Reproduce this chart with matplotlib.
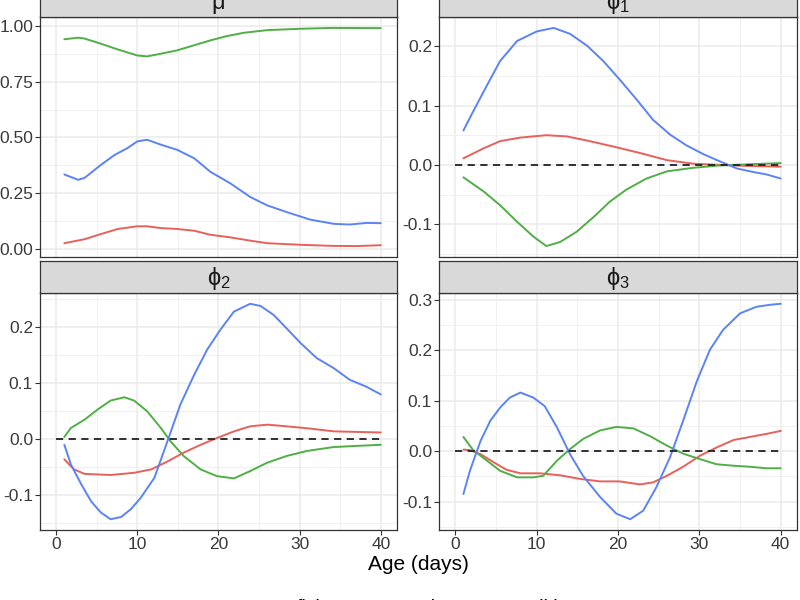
import matplotlib
matplotlib.use("Agg")
import matplotlib.pyplot as plt
from matplotlib.lines import Line2D

plt.rcParams['font.family'] = ['Liberation Sans', 'DejaVu Sans']

# ---------------- data ----------------
groups = ["flying", "resting", "walking"]
colors = {"flying": "#E8605A", "resting": "#4FAF45", "walking": "#5B83F8"}
panel_titles = ["μ", "$\\mathregular{ϕ_1}$", "$\\mathregular{ϕ_2}$", "$\\mathregular{ϕ_3}$"]
x_ticks = [0, 10, 20, 30, 40]
ref_x = [0, 40]

# mu
mu_walk_d = [1, 2.7, 3.5, 5.5, 7.2, 8.8, 10, 11.2, 12.9, 14.9, 17, 19, 21.5, 23.9, 26, 28.4, 31.3, 34.2, 36.2, 38.2, 40]
mu_walk = [0.333, 0.309, 0.318, 0.376, 0.421, 0.452, 0.482, 0.489, 0.467, 0.444, 0.406, 0.345, 0.292, 0.232, 0.194, 0.164, 0.130, 0.111, 0.108, 0.115, 0.114]
mu_rest_d = [1, 2.7, 3.5, 5.5, 7.6, 10, 11.2, 12.9, 14.9, 17, 19, 21, 23.1, 26, 30, 34, 40]
mu_rest = [0.941, 0.948, 0.944, 0.921, 0.895, 0.868, 0.864, 0.876, 0.891, 0.914, 0.936, 0.955, 0.970, 0.982, 0.988, 0.992, 0.991]
mu_fly_d = [1, 3.5, 5.5, 7.6, 10, 11.2, 12.9, 14.9, 17, 19, 21.5, 24, 26, 30, 34, 37, 40]
mu_fly = [0.024, 0.042, 0.065, 0.088, 0.100, 0.100, 0.092, 0.088, 0.080, 0.062, 0.050, 0.035, 0.024, 0.017, 0.012, 0.011, 0.015]

# phi1
p1_walk_d = [1, 2.2, 3.5, 5.5, 7.6, 10, 12.1, 14.1, 16.2, 18.2, 20.2, 22.3, 24.3, 26.4, 28.4, 30.5, 32.5, 34.6, 36.6, 38.2, 40]
p1_walk = [0.058, 0.090, 0.124, 0.175, 0.209, 0.225, 0.231, 0.221, 0.201, 0.175, 0.144, 0.110, 0.076, 0.051, 0.033, 0.018, 0.006, -0.006, -0.012, -0.016, -0.023]
p1_fly_d = [1, 3.5, 5.5, 8, 11.2, 13.7, 16.2, 19.4, 22.7, 26, 29.2, 32.5, 36.2, 40]
p1_fly = [0.011, 0.028, 0.040, 0.046, 0.050, 0.048, 0.041, 0.031, 0.020, 0.008, 0.002, 0.000, -0.002, -0.003]
p1_rest_d = [1, 3.5, 5.5, 7.6, 9.6, 11.2, 12.9, 14.9, 17, 19, 21, 23.5, 26, 29.2, 32.5, 36.2, 40]
p1_rest = [-0.021, -0.045, -0.068, -0.096, -0.121, -0.137, -0.130, -0.113, -0.088, -0.062, -0.042, -0.023, -0.011, -0.005, -0.001, 0.001, 0.003]

# phi2
p2_walk_d = [1, 1.8, 3.1, 4.3, 5.5, 6.7, 8, 9.2, 10.4, 12.1, 13.7, 15.3, 17, 18.6, 20.2, 21.9, 23.9, 25.2, 26.8, 28.4, 30.1, 32.1, 34.2, 36.2, 38.2, 40]
p2_walk = [-0.010, -0.045, -0.081, -0.111, -0.131, -0.143, -0.139, -0.125, -0.105, -0.069, -0.004, 0.062, 0.115, 0.160, 0.195, 0.228, 0.242, 0.238, 0.222, 0.198, 0.172, 0.145, 0.127, 0.106, 0.094, 0.080]
p2_rest_d = [1, 1.8, 3.5, 5.1, 6.7, 8.4, 9.6, 11.2, 12.9, 14.1, 15.7, 17.8, 19.8, 21.9, 23.9, 26, 28.4, 30.9, 34.2, 37, 40]
p2_rest = [0.004, 0.020, 0.035, 0.053, 0.069, 0.075, 0.069, 0.050, 0.020, -0.004, -0.030, -0.054, -0.066, -0.070, -0.057, -0.042, -0.030, -0.021, -0.014, -0.012, -0.010]
p2_fly_d = [1, 2.2, 3.5, 6.7, 9.6, 11.7, 13.7, 15.7, 17.8, 19.8, 21.9, 23.9, 26, 28.4, 31.3, 34.2, 40]
p2_fly = [-0.036, -0.054, -0.062, -0.064, -0.060, -0.054, -0.040, -0.024, -0.010, 0.002, 0.014, 0.023, 0.026, 0.023, 0.019, 0.014, 0.012]

# phi3
p3_walk_d = [1, 1.8, 3.1, 4.3, 5.5, 6.7, 8, 9.6, 11, 12.5, 14.1, 15.7, 17.8, 19.8, 21.5, 23.1, 24.7, 26.4, 28, 29.7, 31.3, 32.9, 35, 37, 38.7, 40]
p3_walk = [-0.085, -0.039, 0.020, 0.060, 0.086, 0.106, 0.116, 0.106, 0.089, 0.047, -0.006, -0.049, -0.091, -0.124, -0.135, -0.118, -0.072, -0.012, 0.060, 0.139, 0.201, 0.240, 0.273, 0.286, 0.290, 0.292]
p3_rest_d = [1, 2.2, 3.9, 5.5, 7.6, 9.6, 10.8, 12.5, 14.1, 15.7, 17.8, 19.8, 21.9, 23.9, 26, 28, 30.1, 32.1, 34.2, 36.2, 38.2, 40]
p3_rest = [0.028, 0.002, -0.019, -0.039, -0.052, -0.052, -0.049, -0.019, 0.004, 0.024, 0.041, 0.048, 0.045, 0.030, 0.011, -0.005, -0.016, -0.026, -0.029, -0.031, -0.034, -0.034]
p3_fly_d = [1, 1.8, 3.1, 4.7, 6.3, 8, 10.4, 12.9, 15.3, 17.8, 20.2, 22.7, 24.3, 26, 28, 30.1, 32.1, 34.2, 36.2, 38.2, 40]
p3_fly = [0.003, 0.002, -0.006, -0.022, -0.037, -0.044, -0.044, -0.048, -0.055, -0.060, -0.060, -0.066, -0.062, -0.049, -0.031, -0.009, 0.007, 0.022, 0.028, 0.034, 0.040]

panels = [
    {"flying": (mu_fly_d, mu_fly), "resting": (mu_rest_d, mu_rest), "walking": (mu_walk_d, mu_walk)},
    {"flying": (p1_fly_d, p1_fly), "resting": (p1_rest_d, p1_rest), "walking": (p1_walk_d, p1_walk)},
    {"flying": (p2_fly_d, p2_fly), "resting": (p2_rest_d, p2_rest), "walking": (p2_walk_d, p2_walk)},
    {"flying": (p3_fly_d, p3_fly), "resting": (p3_rest_d, p3_rest), "walking": (p3_walk_d, p3_walk)},
]
y_ticks = [[0, 0.25, 0.5, 0.75, 1.0], [-0.1, 0, 0.1, 0.2], [-0.1, 0, 0.1, 0.2], [-0.1, 0, 0.1, 0.2, 0.3]]
y_fmt = ["{:.2f}", "{:.1f}", "{:.1f}", "{:.1f}"]
show_ref = [False, True, True, True]

# ---------------- layout ----------------
W, H = 800, 600
fig = plt.figure(figsize=(8, 6), dpi=100)

# (left, right, top, bottom) in pixels for panel areas
boxes = [(40, 397, 17, 257), (439, 797, 17, 257), (40, 397, 293, 530), (439, 797, 293, 530)]
strip_h = 32
grey20 = "#333333"

for i, (l, r, t, b) in enumerate(boxes):
    ax = fig.add_axes([l / W, 1 - b / H, (r - l) / W, (b - t) / H])
    ax.set_facecolor("white")
    for g in groups:
        xd, yd = panels[i][g]
        ax.plot(xd, yd, color=colors[g], lw=1.4, zorder=3, solid_capstyle="round",
                solid_joinstyle="round")
    if show_ref[i]:
        ax.plot(ref_x, [0, 0], color="#222222", lw=1.3, ls=(0, (4, 3)), zorder=4)
    # limits with ggplot-style expansion
    allv = [v for g in groups for v in panels[i][g][1]]
    lo, hi = min(allv), max(allv)
    if show_ref[i]:
        lo, hi = min(lo, 0), max(hi, 0)
    pad = 0.05 * (hi - lo)
    ax.set_xlim(-2, 42)
    ax.set_xticks(x_ticks)
    ax.set_xticks([5, 15, 25, 35], minor=True)
    yt = y_ticks[i]
    ax.set_yticks(yt)
    step = yt[1] - yt[0]
    ax.set_yticks([v + step / 2 for v in yt[:-1]] + [yt[0] - step / 2, yt[-1] + step / 2], minor=True)
    ax.set_ylim(lo - pad, hi + pad)
    ax.set_yticklabels([y_fmt[i].format(v) for v in yt])
    ax.grid(which="major", color="#EBEBEB", lw=1.1, zorder=0)
    ax.grid(which="minor", color="#EFEFEF", lw=0.6, zorder=0)
    ax.set_axisbelow(True)
    ax.tick_params(axis="both", which="major", length=3.5, width=0.8, color=grey20,
                   labelsize=12.5, labelcolor="#3A3A3A", pad=1.5)
    ax.tick_params(axis="both", which="minor", length=0)
    if i < 2:
        ax.tick_params(axis="x", labelbottom=False, length=0)
    for s in ax.spines.values():
        s.set_color(grey20)
        s.set_linewidth(0.9)
    # strip
    sax = fig.add_axes([l / W, 1 - t / H, (r - l) / W, strip_h / H])
    sax.set_facecolor("#D9D9D9")
    sax.set_xticks([])
    sax.set_yticks([])
    for s in sax.spines.values():
        s.set_color(grey20)
        s.set_linewidth(0.9)
    sax.text(0.5, 0.45, panel_titles[i], ha="center", va="center", fontsize=17,
             color="#1A1A1A", transform=sax.transAxes)

fig.text(418 / W, 1 - 564 / H, "Age (days)", ha="center", va="center", fontsize=15, color="black")

handles = [Line2D([], [], color=colors[g], lw=1.4) for g in groups]
fig.legend(handles, groups, loc="center", bbox_to_anchor=(420 / W, 1 - 607 / H), ncol=3,
           frameon=False, fontsize=14, handlelength=1.4, columnspacing=1.0, handletextpad=0.5)

fig.savefig("out.png", dpi=100)
